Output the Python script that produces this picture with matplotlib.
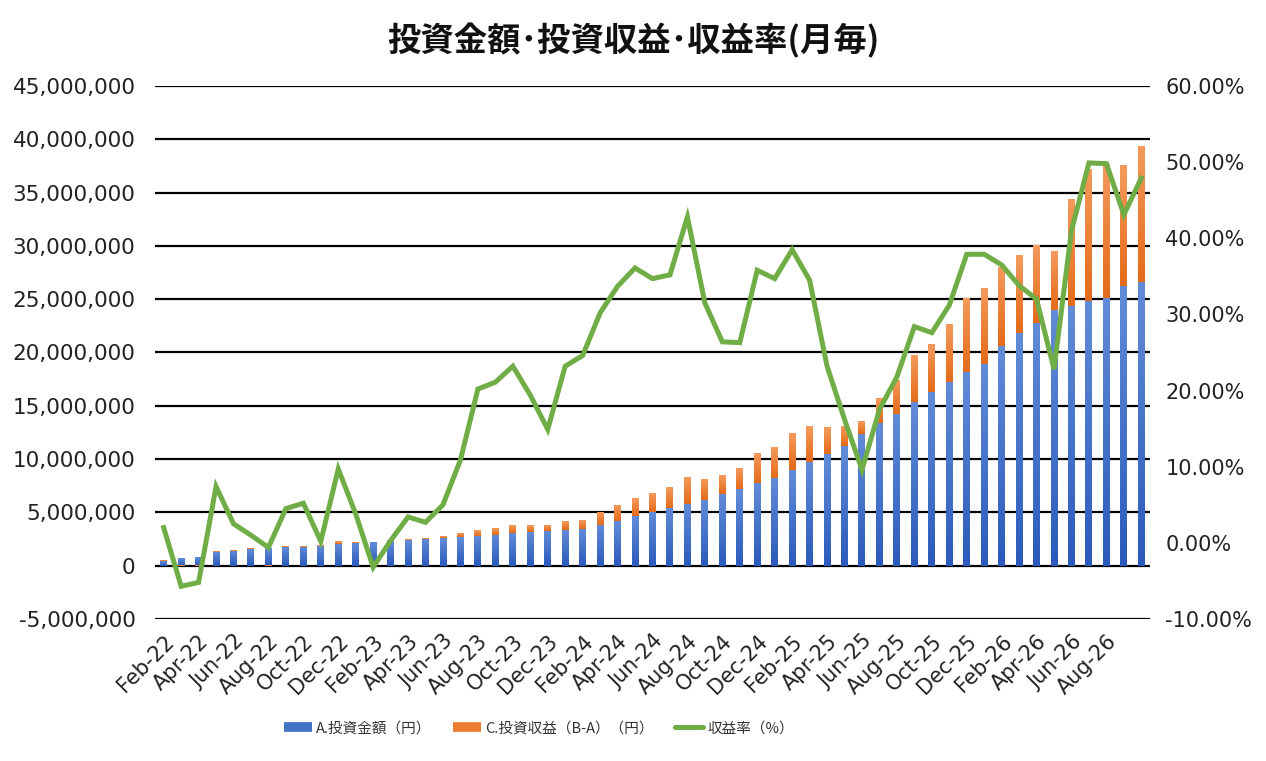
import numpy as np
import pandas as pd
import matplotlib
matplotlib.use("Agg")
import matplotlib.pyplot as plt
from matplotlib.colors import LinearSegmentedColormap
from matplotlib.lines import Line2D
from matplotlib.ticker import FuncFormatter, MultipleLocator

plt.rcParams['font.family'] = ['Noto Sans CJK JP', 'DejaVu Sans']

# monthly categories Feb-22 .. Oct-26
months = list(pd.date_range('2022-02-01', periods=57, freq='MS').strftime('%b-%y'))

# A. invested amount (yen)
invest = [450000, 720000, 840000, 1280000, 1420000, 1530000, 1660000, 1720000, 1790000, 1870000,
          2020000, 2130000, 2250000, 2320000, 2420000, 2550000, 2620000, 2660000, 2800000, 2920000,
          3050000, 3120000, 3220000, 3350000, 3430000, 3800000, 4220000, 4620000, 5000000, 5450000,
          5800000, 6200000, 6680000, 7200000, 7720000, 8270000, 9000000, 9700000, 10500000, 11200000,
          12400000, 13400000, 14250000, 15350000, 16250000, 17200000, 18150000, 18900000, 20600000, 21800000,
          22800000, 24000000, 24400000, 24800000, 25100000, 26250000, 26650000]

# C. profit (B-A) (yen)
profit = [10000, -40000, -40000, 90000, 40000, 20000, -10000, 70000, 90000, 5000,
          190000, 80000, -70000, 10000, 80000, 70000, 130000, 290000, 560000, 620000,
          710000, 600000, 480000, 780000, 840000, 1150000, 1420000, 1670000, 1740000, 1920000,
          2480000, 1950000, 1760000, 1890000, 2760000, 2870000, 3460000, 3350000, 2440000, 1800000,
          1200000, 2330000, 3100000, 4350000, 4500000, 5350000, 6850000, 7100000, 7350000, 7300000,
          7300000, 5500000, 9950000, 12350000, 12500000, 11300000, 12700000]

# return rate (%)
rate = [2.0, -5.7, -5.2, 7.4, 2.5, 1.0, -0.6, 4.5, 5.2, 0.2,
        9.7, 3.8, -3.2, 0.3, 3.4, 2.7, 5.0, 10.9, 20.2, 21.1,
        23.2, 19.4, 14.9, 23.2, 24.6, 30.2, 33.7, 36.1, 34.7, 35.2,
        42.8, 31.5, 26.4, 26.3, 35.8, 34.7, 38.5, 34.5, 23.2, 16.2,
        9.6, 17.5, 21.8, 28.4, 27.6, 31.2, 37.9, 37.9, 36.5, 33.8,
        32.0, 22.8, 41.0, 49.9, 49.8, 43.1, 47.9]

x = np.arange(len(months))
invest = np.array(invest)
profit = np.array(profit)
bottom = np.where(profit >= 0, invest, 0)

fig = plt.figure(figsize=(12.66, 7.61), dpi=100)
ax = fig.add_axes([0.1224, 0.1866, 0.786, 0.7004])

blue_cmap = LinearSegmentedColormap.from_list('b', ['#628CD8', '#2B5ABB'])
orange_cmap = LinearSegmentedColormap.from_list('o', ['#F49A5C', '#E46B19'])


def gradient_bars(bars, cmap):
    grad = np.linspace(0, 1, 64).reshape(-1, 1)
    for p in bars:
        x0, y0 = p.get_xy()
        w, h = p.get_width(), p.get_height()
        if h == 0:
            continue
        top, bot = max(y0, y0 + h), min(y0, y0 + h)
        ax.imshow(grad, cmap=cmap, extent=[x0, x0 + w, bot, top], aspect='auto',
                  origin='upper', zorder=2, interpolation='bilinear')
        p.set_visible(False)


b1 = ax.bar(x, invest, width=0.4, color='#4472C4', zorder=2)
b2 = ax.bar(x, profit, width=0.4, bottom=bottom, color='#ED7D31', zorder=2)
gradient_bars(b1, blue_cmap)
gradient_bars(b2, orange_cmap)

ax.set_xlim(-0.5, len(months) - 0.5)
ax.set_ylim(-5000000, 45000000)
ax.yaxis.set_major_locator(MultipleLocator(5000000))
ax.yaxis.set_major_formatter(FuncFormatter(lambda v, p: f"{v:,.0f}"))
ax.grid(axis='y', color='black', linewidth=1.6)
ax.set_axisbelow(True)
for s in ax.spines.values():
    s.set_visible(False)

# every second month is labelled, the last one shown is Aug-26
ax.set_xticks(x[:55:2])
ax.set_xticklabels(months[:55:2], rotation=45, ha='right', va='top', rotation_mode='anchor',
                   fontsize=15, family='DejaVu Sans', color='#222222')
ax.tick_params(axis='x', length=0, pad=9)
ax.tick_params(axis='y', length=0, pad=14, labelsize=15.5, labelcolor='#222222')
for t in ax.get_yticklabels():
    t.set_family('DejaVu Sans')

ax2 = ax.twinx()
ax2.plot(x, rate, color='#70AD47', linewidth=3.6, solid_joinstyle='miter', zorder=3)
ax2.set_ylim(-10, 60)
ax2.yaxis.set_major_locator(MultipleLocator(10))
ax2.yaxis.set_major_formatter(FuncFormatter(lambda v, p: f"{v:.2f}%"))
ax2.tick_params(axis='y', length=0, pad=11, labelsize=15, labelcolor='#222222')
for t in ax2.get_yticklabels():
    t.set_family('DejaVu Sans')
for s in ax2.spines.values():
    s.set_visible(False)
ax2.set_xlim(-0.5, len(months) - 0.5)

fig.text(0.5, 0.946, '投資金額･投資収益･収益率(月毎)', ha='center', va='center',
         fontsize=24, fontweight='bold', color='#111111')

handles = [
    Line2D([0], [0], color='#4472C4', linewidth=7, solid_capstyle='butt'),
    Line2D([0], [0], color='#ED7D31', linewidth=7, solid_capstyle='butt'),
    Line2D([0], [0], color='#70AD47', linewidth=3.6, solid_capstyle='round'),
]
labels = ['A.投資金額（円）', 'C.投資収益（B-A）（円）', '収益率（%）']
fig.legend(handles, labels, loc='center', bbox_to_anchor=(0.4258, 0.043), ncol=3,
           frameon=False, fontsize=10.5, handlelength=1.9, handletextpad=0.27,
           columnspacing=1.5, labelcolor='#333333')

fig.savefig('out.png', dpi=100)
